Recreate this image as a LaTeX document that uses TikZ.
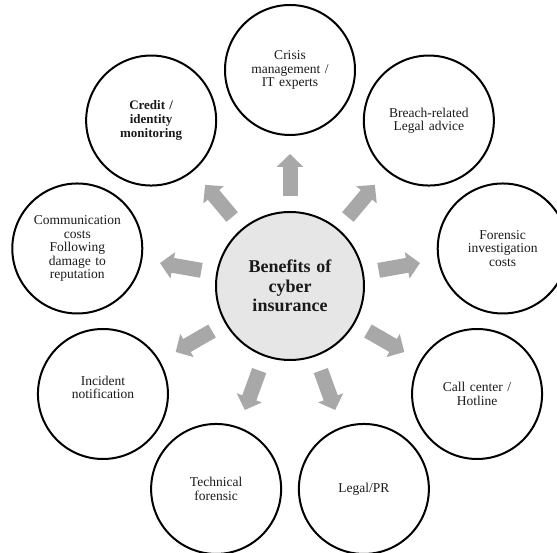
\documentclass[tikz,border=0pt]{standalone}
\usepackage{fontspec}
\setmainfont{Liberation Serif}
\usetikzlibrary{arrows.meta}
\definecolor{hubfill}{HTML}{E6E6E6}
\definecolor{arrowgray}{HTML}{A8A8A8}
\definecolor{inkblack}{HTML}{1A1A1A}
\begin{document}
\begin{tikzpicture}[x=1pt,y=1pt,
  benefit/.style={circle, draw=black, line width=2pt, minimum size=130pt,
    inner sep=0pt, align=center, text width=100pt, text=inkblack,
    font=\fontsize{13.5}{13.5}\selectfont},
  hub/.style={circle, draw=black, line width=2pt, fill=hubfill,
    minimum size=148pt, inner sep=0pt, align=center, text width=120pt,
    text=inkblack, font=\bfseries\fontsize{18}{19.5}\selectfont},
  blockarrow/.style={draw=arrowgray, line width=15pt,
    -{Triangle[width=26pt,length=13pt,fill=arrowgray,color=arrowgray]},
    shorten <=15pt, shorten >=18pt}]
\useasboundingbox (0,0) rectangle (557,553);
\clip (0,0) rectangle (557,553);
\begin{scope}[shift={(290,267)}]
  \node[hub] (hub) at (0,0) {Benefits of\\cyber\\insurance};
  \node[benefit] (crisis)   at (90:216)   {Crisis\\management /\\IT experts};
  \node[benefit] (breach)   at (50:216)   {Breach-related\\Legal advice};
  \node[benefit] (forensic) at (10:216)   {Forensic\\investigation\\costs};
  \node[benefit] (callctr)  at (-30:216)  {Call center /\\Hotline};
  \node[benefit] (legalpr)  at (-70:216)  {Legal/PR};
  \node[benefit] (technical) at (-110:216) {Technical\\forensic};
  \node[benefit] (incident) at (-150:216) {Incident\\notification\\\mbox{}};
  \node[benefit] (comms)    at (170:216)  {Communication\\costs\\Following\\damage to\\reputation};
  \node[benefit, font=\bfseries\fontsize{13}{14}\selectfont] (credit) at (130:216)
    {Credit /\\identity\\monitoring};
\end{scope}
\foreach \target in {crisis,breach,forensic,callctr,legalpr,technical,incident,comms,credit}
  \draw[blockarrow] (hub) -- (\target);
\end{tikzpicture}
\end{document}
